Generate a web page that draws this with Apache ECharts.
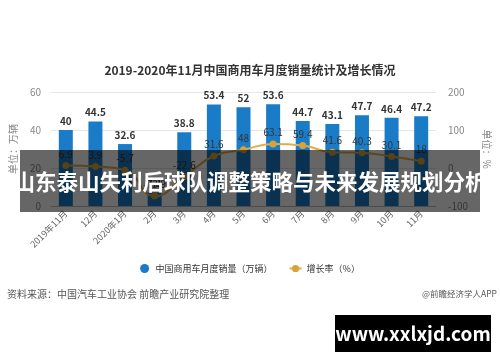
<!DOCTYPE html>
<html>
<head>
<meta charset="utf-8">
<script src="https://cdn.jsdelivr.net/npm/echarts@6/dist/echarts.min.js"></script>
<style>html,body{margin:0;padding:0;background:#fff;}#c{width:500px;height:362px;}</style>
</head>
<body>
<div id="c"></div>
<script>
const categories = ['2019年11月','12月','2020年1月','2月','3月','4月','5月','6月','7月','8月','9月','10月','11月'];
const salesValues = [40, 44.5, 32.6, 7.1, 38.8, 53.4, 52, 53.6, 44.7, 43.1, 47.7, 46.4, 47.2];
const growthValues = [6.9, 3.9, -5.7, -73.9, -22.6, 31.6, 48, 63.1, 59.4, 41.6, 40.3, 30.1, 18];
const leftTicks = {min: 0, max: 60, interval: 20};
const rightTicks = {min: -100, max: 200, interval: 100};
const FONT = '"Noto Sans CJK SC", "Noto Sans", sans-serif';

const chart = echarts.init(document.getElementById('c'));
chart.setOption({
  animation: false,
  textStyle: {fontFamily: FONT},
  title: {
    text: '2019-2020年11月中国商用车月度销量统计及增长情况',
    left: 'center', top: 59,
    textStyle: {fontSize: 12, fontWeight: 'bold', color: '#333', fontFamily: FONT}
  },
  legend: {
    bottom: 84, left: 'center', itemGap: 16, itemWidth: 12, itemHeight: 9,
    textStyle: {fontSize: 9, color: '#333', fontFamily: FONT},
    data: [{name: '中国商用车月度销量（万辆）', icon: 'circle'}, {name: '增长率（%）'}]
  },
  grid: {left: 49, right: 58, top: 92, bottom: 156},
  xAxis: {
    type: 'category', data: categories,
    axisLine: {lineStyle: {color: '#bbb'}},
    axisTick: {alignWithLabel: true, lineStyle: {color: '#bbb'}},
    axisLabel: {rotate: 45, fontSize: 9, color: '#666', interval: 0, margin: 6}
  },
  yAxis: [
    {
      type: 'value', min: leftTicks.min, max: leftTicks.max, interval: leftTicks.interval,
      name: '单位：万辆', nameLocation: 'middle', nameGap: 33, nameRotate: 90,
      nameTextStyle: {fontSize: 10, color: '#888'},
      axisLabel: {fontSize: 10, color: '#888', margin: 10},
      splitLine: {lineStyle: {color: '#e6e6e6'}},
      axisLine: {show: false}, axisTick: {show: false}
    },
    {
      type: 'value', min: rightTicks.min, max: rightTicks.max, interval: rightTicks.interval,
      name: '单位：%', nameLocation: 'middle', nameGap: 46, nameRotate: -90,
      nameTextStyle: {fontSize: 10, color: '#888'},
      axisLabel: {fontSize: 10, color: '#888', margin: 12},
      splitLine: {show: false},
      axisLine: {show: false}, axisTick: {show: false}
    }
  ],
  series: [
    {
      name: '中国商用车月度销量（万辆）', type: 'bar', data: salesValues, barWidth: 14,
      itemStyle: {color: '#1a7cc6'},
      label: {show: true, position: 'top', fontSize: 10, fontWeight: 'bold', color: '#333', distance: 4}
    },
    {
      name: '增长率（%）', type: 'line', yAxisIndex: 1, data: growthValues, smooth: true,
      symbol: 'circle', symbolSize: 7,
      lineStyle: {color: '#e2ad45', width: 2},
      itemStyle: {color: '#d9a23a'},
      label: {show: true, position: 'top', fontSize: 10, color: '#333', distance: 3}
    }
  ],
  graphic: [
    {type: 'rect', shape: {x: 20, y: 150, width: 460, height: 62}, style: {fill: 'rgba(0,0,0,0.6)'}, z: 100},
    {type: 'text', x: 250, y: 182, z: 101,
      style: {text: '山东泰山失利后球队调整策略与未来发展规划分析', fill: '#fff', font: 'bold 21.5px ' + FONT, textAlign: 'center', textVerticalAlign: 'middle'}},
    {type: 'text', x: 7, y: 294, z: 101,
      style: {text: '资料来源：中国汽车工业协会 前瞻产业研究院整理', fill: '#555', font: '10px ' + FONT, textVerticalAlign: 'middle'}},
    {type: 'text', x: 497, y: 294, z: 101,
      style: {text: '@前瞻经济学人APP', fill: '#555', font: '8.5px ' + FONT, textAlign: 'right', textVerticalAlign: 'middle'}},
    {type: 'rect', shape: {x: 335, y: 315, width: 156, height: 37}, style: {fill: '#000'}, z: 100},
    {type: 'text', x: 413, y: 333.5, z: 101,
      style: {text: 'www.xxlxjd.com', fill: '#fff', font: 'bold 19px ' + FONT, textAlign: 'center', textVerticalAlign: 'middle'}}
  ]
});
</script>
</body>
</html>
